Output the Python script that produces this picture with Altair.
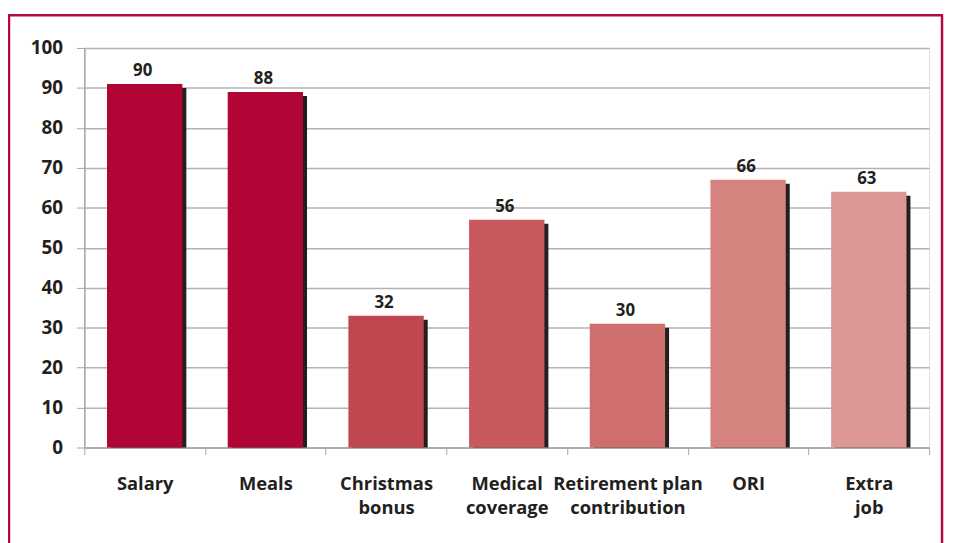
import altair as alt
import pandas as pd

categories = ["Salary", "Meals", "Christmas|bonus", "Medical|coverage",
              "Retirement plan|contribution", "ORI", "Extra|job"]
values = [90, 88, 32, 56, 30, 66, 63]
colors = ["#b00535", "#b00535", "#c0474f", "#c85a5e", "#ce6f6e", "#d5837f", "#dd9896"]
y_ticks = [0, 10, 20, 30, 40, 50, 60, 70, 80, 90, 100]

df = pd.DataFrame({"cat": categories, "val": values, "col": colors})

FONT = "Open Sans"
TXT = "#231f20"
BORDER = "#b5093a"

xenc = alt.X("cat:N", sort=categories, title=None,
             scale=alt.Scale(paddingInner=0, paddingOuter=0),
             axis=alt.Axis(labelExpr="split(datum.label, '|')", labelAngle=0,
                           labelFont=FONT, labelFontSize=18.5, labelFontWeight="bold",
                           labelColor=TXT, labelLineHeight=25, labelPadding=20,
                           labelBaseline="top",
                           tickBand="extent", tickSize=7, tickColor="#a6a6a6",
                           domainColor="#a6a6a6", domainWidth=1.5, grid=False))
yscale = alt.Scale(domain=[0, 100], nice=False)
yenc = alt.Y("val:Q", scale=yscale, title=None,
             axis=alt.Axis(values=y_ticks, labelFont=FONT, labelFontSize=19,
                           labelFontWeight="bold", labelColor=TXT, labelPadding=14,
                           tickSize=8, tickColor="#a6a6a6", domainColor="#a6a6a6",
                           domainWidth=1.5, gridColor="#b3b3b3", gridWidth=1.5))

base = alt.Chart(df)

shadow = base.mark_bar(width=76, color="#231f20", xOffset=4).encode(
    x=xenc, y=yenc, y2=alt.datum(0))
face = base.mark_bar(width=76, yOffset=-4, y2Offset=0).encode(
    x=xenc, y=yenc, y2=alt.datum(0), color=alt.Color("col:N", scale=None))
labels = base.mark_text(font=FONT, fontSize=17, fontWeight="bold", color=TXT,
                        baseline="alphabetic", dy=-12, dx=-2).encode(
    x=alt.X("cat:N", sort=categories), y=alt.Y("val:Q", scale=yscale),
    text=alt.Text("val:Q"))

bd = alt.Chart(alt.Data(values=[{"a": 1}]))
left = bd.mark_rule(color=BORDER, strokeWidth=2.5).encode(
    x=alt.value(-76), y=alt.value(-33), y2=alt.value(540))
right = bd.mark_rule(color=BORDER, strokeWidth=2.5).encode(
    x=alt.value(865), y=alt.value(-33), y2=alt.value(540))
top = bd.mark_rule(color=BORDER, strokeWidth=2.5).encode(
    x=alt.value(-77), x2=alt.value(866), y=alt.value(-33))

chart = alt.layer(shadow, face, labels, left, right, top).properties(
    width=852, height=403,
    autosize=alt.AutoSizeParams(type="none"),
    padding={"left": 77, "top": 38, "right": 16, "bottom": 94},
).configure_view(stroke=None).configure(background="white")

chart.save("out.html", embed_options={"renderer": "svg", "actions": False})
